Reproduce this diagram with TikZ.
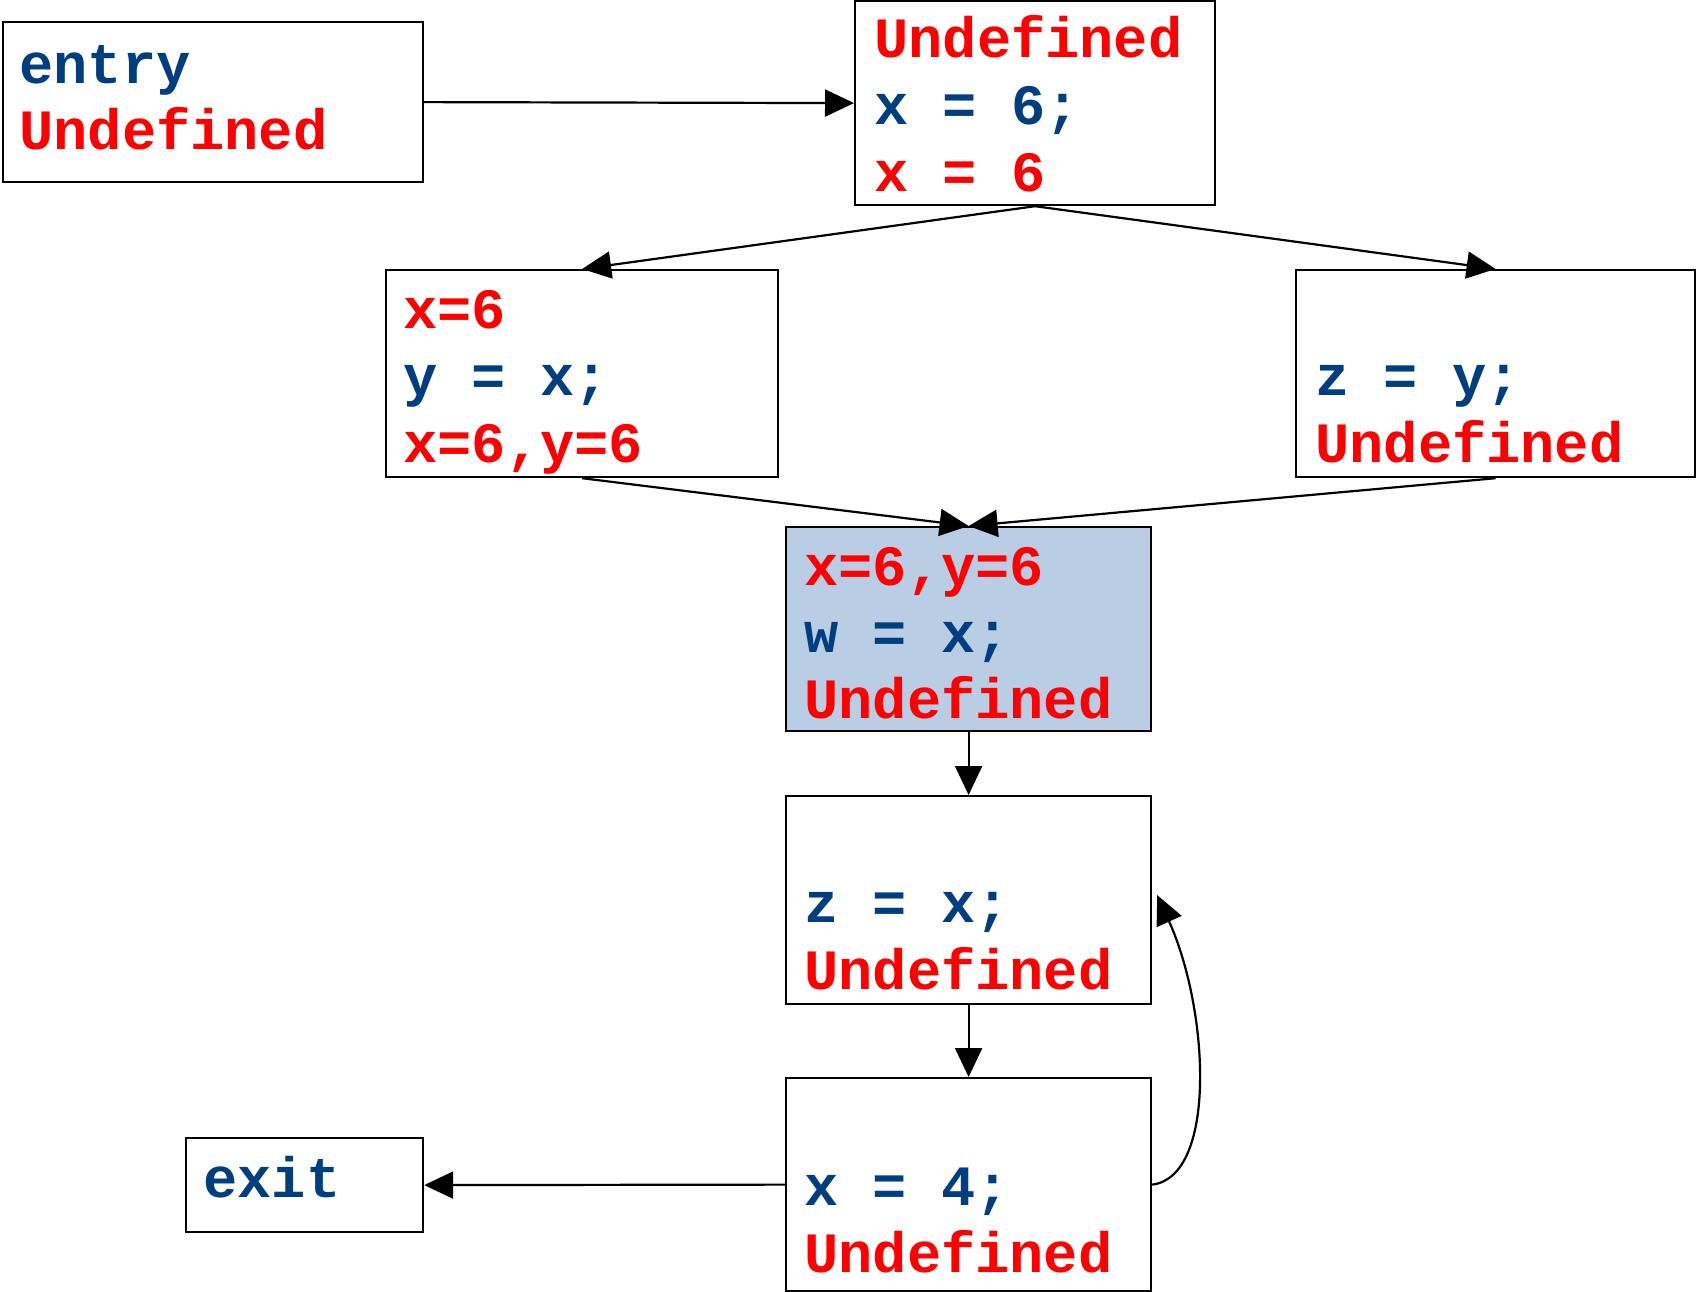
\documentclass[tikz,border=0pt]{standalone}
\usepackage{fontspec}
\setmonofont{Liberation Mono}
\usetikzlibrary{arrows.meta}
\definecolor{cblue}{RGB}{0,62,128}
\definecolor{cred}{RGB}{255,0,0}
\definecolor{cfill}{RGB}{185,205,229}
\tikzset{
  box/.style={draw=black, line width=1.1pt, rectangle, inner sep=0pt, anchor=north west},
  bl/.style={text=cblue, anchor=base west, inner sep=0pt, font=\fontsize{28.5}{30}\selectfont\ttfamily\bfseries},
  rd/.style={text=cred, anchor=base west, inner sep=0pt, font=\fontsize{28.5}{30}\selectfont\ttfamily\bfseries},
  arr/.style={draw=black, line width=1.1pt, -{Triangle[length=14.5pt,width=13.5pt]}}
}
\begin{document}
\begin{tikzpicture}[x=0.5pt,y=-0.5pt]
\useasboundingbox (0,0) rectangle (1696,1291);
% boxes
\node[box, minimum width=210pt, minimum height=80pt] (entry) at (2,21) {};
\node[box, minimum width=180pt, minimum height=102pt] (b1) at (854,0) {};
\node[box, minimum width=196pt, minimum height=103.5pt] (b2) at (385,269) {};
\node[box, minimum width=199.5pt, minimum height=103.5pt] (b3) at (1295,269) {};
\node[box, fill=cfill, minimum width=182.5pt, minimum height=102pt] (b4) at (785,526) {};
\node[box, minimum width=182.5pt, minimum height=104pt] (b5) at (785,795) {};
\node[box, minimum width=182.5pt, minimum height=106.5pt] (b6) at (785,1077) {};
\node[box, minimum width=118.5pt, minimum height=47pt] (exit) at (185,1137) {};
% texts
\node[bl] (te1) at (19,83) {entry};
\node[rd] (te2) at (19,149) {Undefined};
\node[rd] (t11) at (874,57) {Undefined};
\node[bl] (t12) at (874,124) {x = 6;};
\node[rd] (t13) at (874,191) {x = 6};
\node[rd] (t21) at (403,328) {x=6};
\node[bl] (t22) at (403,395) {y = x;};
\node[rd] (t23) at (403,462) {x=6,y=6};
\node[bl] (t31) at (1315,395) {z = y;};
\node[rd] (t32) at (1315,462) {Undefined};
\node[rd] (t41) at (804,585) {x=6,y=6};
\node[bl] (t42) at (804,652) {w = x;};
\node[rd] (t43) at (804,718) {Undefined};
\node[bl] (t51) at (804,922) {z = x;};
\node[rd] (t52) at (804,989) {Undefined};
\node[bl] (t61) at (804,1205) {x = 4;};
\node[rd] (t62) at (804,1272) {Undefined};
\node[bl] (tx) at (203,1197) {exit};
% connectors
\draw[arr] (entry.east) -- (b1.west);
\draw[arr] (b1.south) -- (b2.north);
\draw[arr] (b1.south) -- (b3.north);
\draw[arr] (b2.south) -- (b4.north);
\draw[arr] (b3.south) -- (b4.north);
\draw[arr] (b4.south) -- (b5.north);
\draw[arr] (b5.south) -- (b6.north);
\draw[arr] (b6.west) -- (exit.east);
\coordinate (loopend) at ([xshift=2.5pt,yshift=2.5pt]b5.east);
\draw[arr] (b6.east) .. controls +(65,-8) and +(52,115) .. (loopend);
\end{tikzpicture}
\end{document}
